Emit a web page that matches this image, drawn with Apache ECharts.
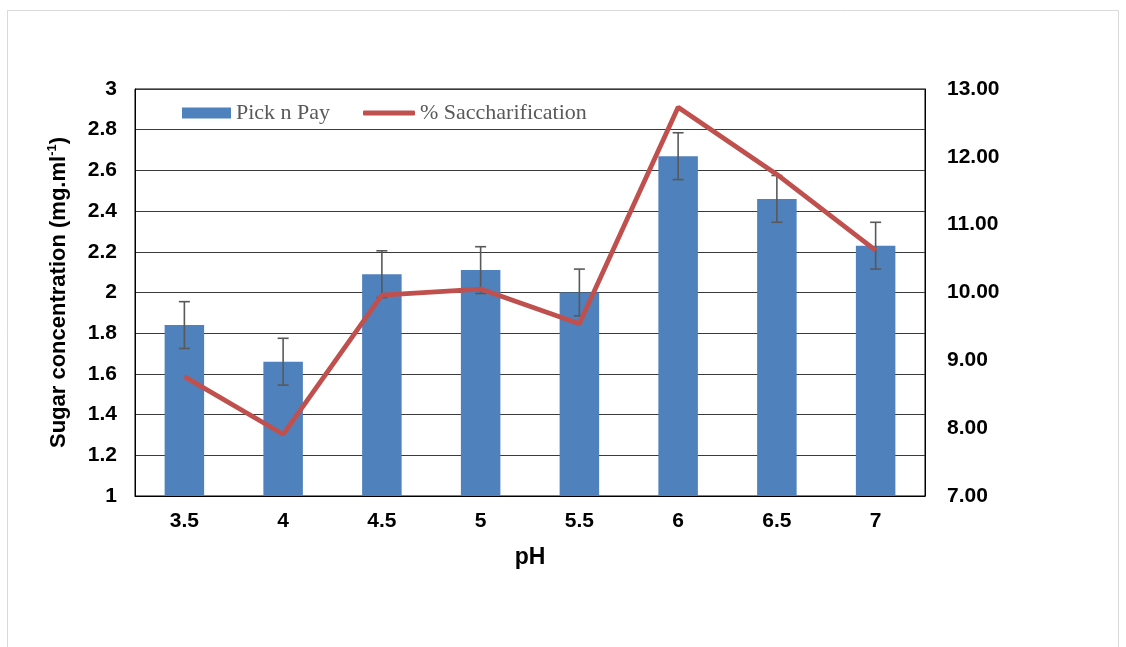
<!DOCTYPE html>
<html>
<head>
<meta charset="utf-8">
<script src="https://cdn.jsdelivr.net/npm/echarts@6/dist/echarts.min.js"></script>
<style>
html,body{margin:0;padding:0;background:#fff;}
#chart{width:1126px;height:647px;}
</style>
</head>
<body>
<div id="chart"></div>
<script>
const categories = ['3.5', '4', '4.5', '5', '5.5', '6', '6.5', '7'];
const sugar = [1.84, 1.66, 2.09, 2.11, 2.00, 2.67, 2.46, 2.23];
const sugarErr = [0.115, 0.115, 0.115, 0.115, 0.115, 0.115, 0.115, 0.115];
const saccharification = [8.76, 7.91, 9.96, 10.05, 9.54, 12.73, 11.74, 10.62];
const leftTicks = { min: 1, max: 3, interval: 0.2 };
const rightTicks = { min: 7, max: 13, interval: 1 };

const chart = echarts.init(document.getElementById('chart'), null, { renderer: 'canvas' });
const errData = categories.map((c, i) => [i, sugar[i] - sugarErr[i], sugar[i] + sugarErr[i]]);
const sans = 'Liberation Sans, Arial, sans-serif';
const axisFont = { fontFamily: sans, fontWeight: 'bold', fontSize: 21, color: '#000' };
const legendText = { fontFamily: 'Liberation Serif, Times New Roman, serif', fontSize: 22, color: '#595959' };

chart.setOption({
  animation: false,
  backgroundColor: '#fff',
  graphic: [{
    type: 'rect', shape: { x: 7.5, y: 10.5, width: 1111, height: 660 },
    style: { fill: 'none', stroke: '#d9d9d9', lineWidth: 1 }, silent: true, z: -10
  }],
  grid: { left: 135, right: 201, top: 89, bottom: 151, show: true, borderColor: '#000', borderWidth: 1, backgroundColor: 'transparent' },
  legend: [{
    left: 182, top: 102, padding: 0, itemWidth: 49, itemHeight: 11,
    textStyle: legendText,
    data: [{ name: 'Pick n Pay', icon: 'rect' }]
  }, {
    left: 363, top: 102, padding: 0, itemWidth: 52, itemHeight: 5,
    textStyle: legendText,
    data: [{ name: '% Saccharification', icon: 'roundRect' }]
  }],
  xAxis: {
    type: 'category', data: categories,
    axisLine: { show: true, lineStyle: { color: '#000', width: 1 } },
    axisTick: { show: false },
    axisLabel: Object.assign({ margin: 15 }, axisFont),
    name: 'pH', nameLocation: 'middle', nameGap: 50,
    nameTextStyle: { fontFamily: sans, fontWeight: 'bold', fontSize: 23, color: '#000' }
  },
  yAxis: [{
    type: 'value', min: leftTicks.min, max: leftTicks.max, interval: leftTicks.interval,
    axisLine: { show: true, lineStyle: { color: '#000' } },
    axisTick: { show: false },
    axisLabel: Object.assign({ margin: 18, formatter: v => String(Math.round(v * 10) / 10) }, axisFont),
    splitLine: { show: true, lineStyle: { color: '#3a3a3a', width: 1 } },
    name: '{a|Sugar concentration (mg.ml}{s|-1}{a|)}', nameLocation: 'middle', nameGap: 63, nameRotate: 90,
    nameTextStyle: {
      rich: {
        a: { fontFamily: sans, fontWeight: 'bold', fontSize: 22, color: '#000', lineHeight: 26 },
        s: { fontFamily: sans, fontWeight: 'bold', fontSize: 13, color: '#000', verticalAlign: 'top', lineHeight: 26, padding: [0, 0, 9, 0] }
      }
    }
  }, {
    type: 'value', min: rightTicks.min, max: rightTicks.max, interval: rightTicks.interval,
    position: 'right',
    axisLine: { show: true, lineStyle: { color: '#000' } },
    axisTick: { show: false },
    axisLabel: Object.assign({ margin: 22, formatter: v => v.toFixed(2) }, axisFont),
    splitLine: { show: false }
  }],
  series: [{
    name: 'Pick n Pay', type: 'bar', data: sugar, barWidth: '40%',
    itemStyle: { color: '#4f81bd' }, z: 2
  }, {
    name: 'errors', type: 'custom', data: errData, z: 3,
    renderItem: function (params, api) {
      const x = api.value(0);
      const lo = api.coord([x, api.value(1)]);
      const hi = api.coord([x, api.value(2)]);
      const h = 5.5;
      const st = { stroke: '#595959', lineWidth: 1.6 };
      return {
        type: 'group', children: [
          { type: 'line', shape: { x1: lo[0], y1: lo[1], x2: hi[0], y2: hi[1] }, style: st },
          { type: 'line', shape: { x1: lo[0] - h, y1: lo[1], x2: lo[0] + h, y2: lo[1] }, style: st },
          { type: 'line', shape: { x1: hi[0] - h, y1: hi[1], x2: hi[0] + h, y2: hi[1] }, style: st }
        ]
      };
    }
  }, {
    name: '% Saccharification', type: 'line', yAxisIndex: 1, data: saccharification,
    symbol: 'none', lineStyle: { color: '#c0504d', width: 4.8 }, itemStyle: { color: '#c0504d' }, z: 5
  }]
});
</script>
</body>
</html>
